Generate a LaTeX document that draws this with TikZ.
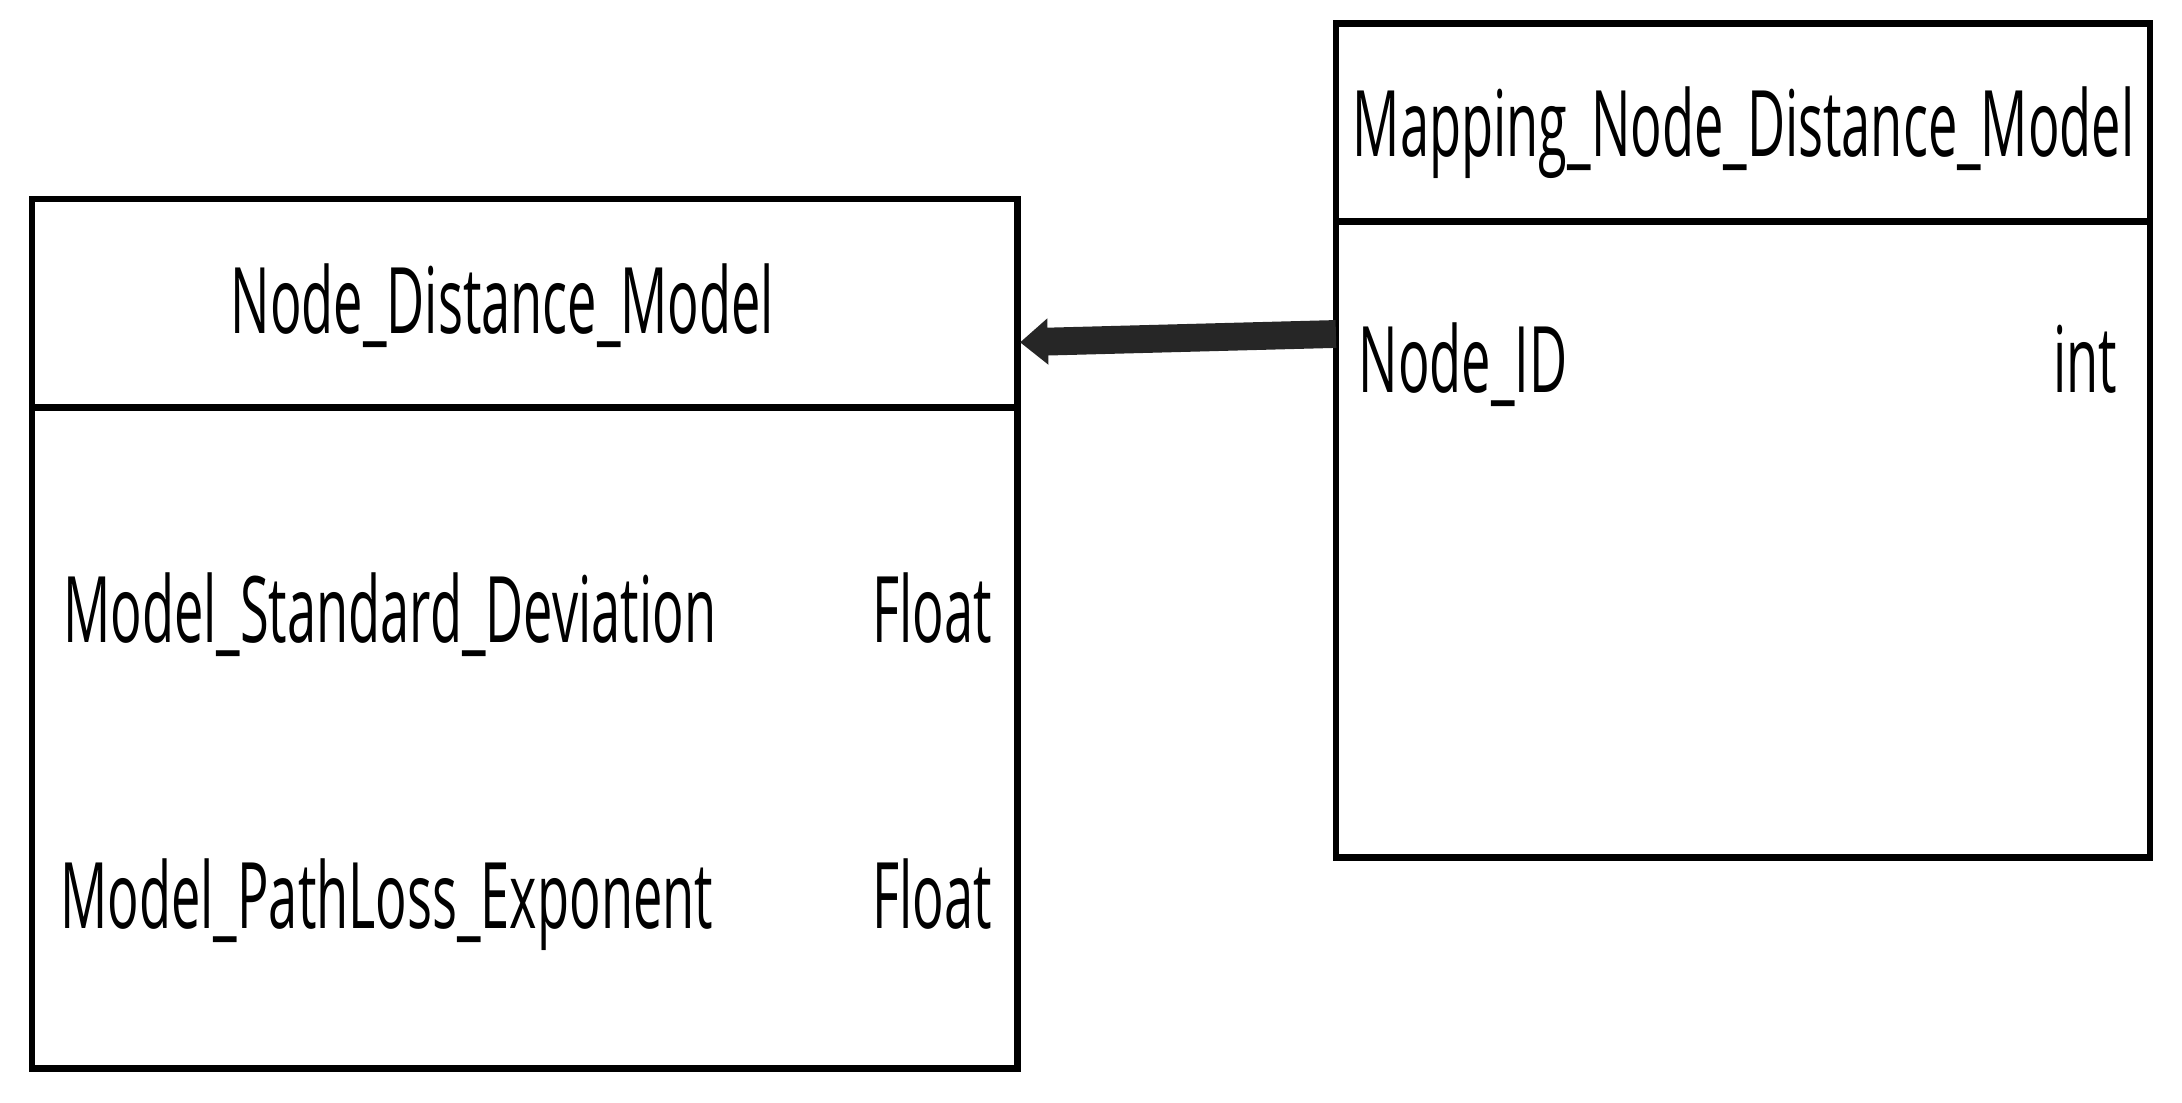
\documentclass[tikz,border=0pt]{standalone}
\usepackage{fontspec}
\setmainfont{Open Sans}
\usetikzlibrary{arrows.meta}
\begin{document}
\begin{tikzpicture}[x=0.5pt,y=-0.5pt,
  box/.style={draw,line width=2.4pt},
  txt/.style={inner sep=0pt,font=\fontsize{33}{33}\selectfont},
]
\useasboundingbox (0,0) rectangle (1568,792);
\draw[box] (23,143) rectangle (731,768);
\draw[box] (23,293) -- (731,293);
\draw[box] (960,17) rectangle (1545,616);
\draw[box] (960,159) -- (1545,159);
\node[txt] (t1) at (361,220) {\scalebox{0.57}[1]{Node\_Distance\_Model}};
\node[txt,anchor=base west] (a1) at (45,462) {\scalebox{0.57}[1]{Model\_Standard\_Deviation}};
\node[txt,anchor=base east] (f1) at (713,462) {\scalebox{0.57}[1]{Float}};
\node[txt,anchor=base west] (a2) at (43,667) {\scalebox{0.57}[1]{Model\_PathLoss\_Exponent}};
\node[txt,anchor=base east] (f2) at (713,667) {\scalebox{0.57}[1]{Float}};
\node[txt] (t2) at (1253,95) {\scalebox{0.57}[1]{Mapping\_Node\_Distance\_Model}};
\node[txt,anchor=base west] (n1) at (976,282) {\scalebox{0.57}[1]{Node\_ID}};
\node[txt,anchor=base east] (i1) at (1522,282) {\scalebox{0.57}[1]{int}};
\coordinate (s) at (960,240);
\coordinate (e) at (733,246);
\draw[line width=10pt,-{Triangle[length=10pt,width=16pt]},draw=black!85,fill=black!85] (s) -- (e);
\end{tikzpicture}
\end{document}
